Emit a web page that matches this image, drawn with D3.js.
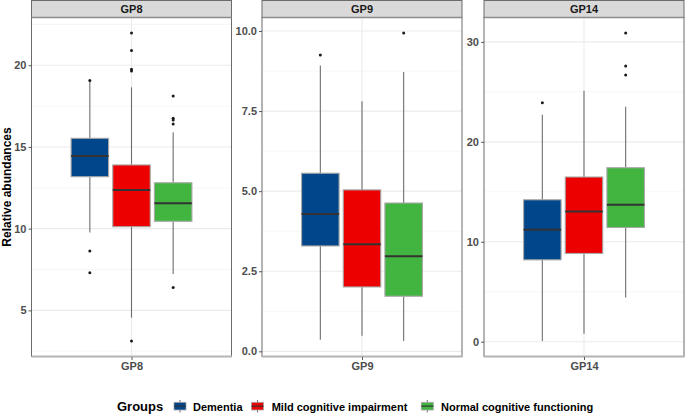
<!DOCTYPE html>
<html><head><meta charset="utf-8">
<script src="https://cdn.jsdelivr.net/npm/d3@7"></script>
<style>body{margin:0;background:#fff;}svg{display:block;font-family:"Liberation Sans",Arial,sans-serif;}</style>
</head><body>
<script>
const categories = ["GP8", "GP9", "GP14"];
const groups = ["Dementia", "Mild cognitive impairment", "Normal cognitive functioning"];
const colors = ["#00468B", "#ED0000", "#42B540"];
const yTicks = [[5, 10, 15, 20], [0, 2.5, 5, 7.5, 10], [0, 10, 20, 30]];
const yTickLabels = [["5", "10", "15", "20"], ["0.0", "2.5", "5.0", "7.5", "10.0"], ["0", "10", "20", "30"]];
// per panel: [Dementia, MCI, Normal]
const lowerWhisker = [[9.77, 4.55, 7.22], [0.36, 0.49, 0.32], [0.06, 0.8, 4.41]];
const q1 = [[13.18, 10.12, 10.45], [3.29, 2.01, 1.72], [8.19, 8.83, 11.43]];
const median = [[14.45, 12.37, 11.55], [4.29, 3.34, 2.97], [11.2, 13.04, 13.7]];
const q3 = [[15.53, 13.9, 12.81], [5.56, 5.04, 4.63], [14.2, 16.48, 17.41]];
const upperWhisker = [[19.0, 18.65, 15.9], [8.92, 7.81, 8.72], [22.7, 25.1, 23.5]];
const outliers = [
  [[19.06, 8.63, 7.3], [21.98, 20.9, 19.75, 19.65, 3.12], [18.12, 16.75, 16.65, 16.4, 6.4]],
  [[9.25], [], [9.94]],
  [[23.9], [], [30.9, 27.6, 26.7]]
];

const W = 685, H = 415;
const svg = d3.select("body").append("svg").attr("width", W).attr("height", H);
const panelLeft = [31.5, 262, 484];
const panelW = 200;
const stripTop = 0.5, stripH = 17, plotTop = 17.5, plotBottom = 356.5;

categories.forEach((cat, p) => {
  const x0 = panelLeft[p];
  const x = d3.scaleLinear().domain([0.4, 1.6]).range([x0, x0 + panelW]);
  const allVals = lowerWhisker[p].concat(upperWhisker[p], ...outliers[p]);
  const mn = d3.min(allVals), mx = d3.max(allVals), r = mx - mn;
  const y = d3.scaleLinear().domain([mn - 0.05 * r, mx + 0.05 * r]).range([plotBottom, plotTop]);
  const g = svg.append("g");
  g.append("rect").attr("x", x0).attr("y", plotTop).attr("width", panelW).attr("height", plotBottom - plotTop).attr("fill", "#fff");
  // minor grid
  const step = yTicks[p][1] - yTicks[p][0];
  const minors = [];
  for (let v = yTicks[p][0] - step / 2; v <= y.domain()[1]; v += step) {
    if (v >= y.domain()[0]) minors.push(v);
  }
  g.selectAll(".mg").data(minors).enter().append("line")
    .attr("x1", x0).attr("x2", x0 + panelW).attr("y1", d => y(d)).attr("y2", d => y(d))
    .attr("stroke", "#f2f2f2").attr("stroke-width", 0.7);
  g.selectAll(".Mg").data(yTicks[p]).enter().append("line")
    .attr("x1", x0).attr("x2", x0 + panelW).attr("y1", d => y(d)).attr("y2", d => y(d))
    .attr("stroke", "#ebebeb").attr("stroke-width", 1.1);
  g.append("line").attr("x1", x(1)).attr("x2", x(1)).attr("y1", plotTop).attr("y2", plotBottom)
    .attr("stroke", "#ebebeb").attr("stroke-width", 1.1);

  // boxes
  groups.forEach((grp, i) => {
    const cx = x(1 + (i - 1) * 0.25);
    const bw = x(0.4 + 0.225) - x(0.4);
    g.append("line").attr("x1", cx).attr("x2", cx).attr("y1", y(upperWhisker[p][i])).attr("y2", y(q3[p][i]))
      .attr("stroke", "#6e6e6e").attr("stroke-width", 1.1);
    g.append("line").attr("x1", cx).attr("x2", cx).attr("y1", y(q1[p][i])).attr("y2", y(lowerWhisker[p][i]))
      .attr("stroke", "#6e6e6e").attr("stroke-width", 1.1);
    g.append("rect").attr("x", cx - bw / 2).attr("y", y(q3[p][i])).attr("width", bw)
      .attr("height", y(q1[p][i]) - y(q3[p][i])).attr("fill", colors[i]).attr("stroke", "#a8a8a8").attr("stroke-width", 1.1);
    g.append("line").attr("x1", cx - bw / 2).attr("x2", cx + bw / 2).attr("y1", y(median[p][i])).attr("y2", y(median[p][i]))
      .attr("stroke", "#333333").attr("stroke-width", 2);
    g.selectAll(null).data(outliers[p][i]).enter().append("circle")
      .attr("cx", cx).attr("cy", d => y(d)).attr("r", 1.5).attr("fill", "#1a1a1a");
  });

  // panel border
  g.append("rect").attr("x", x0).attr("y", plotTop).attr("width", panelW).attr("height", plotBottom - plotTop)
    .attr("fill", "none").attr("stroke", "#6b6b6b").attr("stroke-width", 1);
  g.append("line").attr("x1", x0).attr("x2", x0 + panelW + 0.5).attr("y1", plotBottom).attr("y2", plotBottom)
    .attr("stroke", "#b3b3b3").attr("stroke-width", 2);
  // strip
  g.append("rect").attr("x", x0).attr("y", stripTop).attr("width", panelW).attr("height", stripH)
    .attr("fill", "#d9d9d9").attr("stroke", "#6b6b6b").attr("stroke-width", 1);
  g.append("line").attr("x1", x0).attr("x2", x0 + panelW).attr("y1", plotTop).attr("y2", plotTop)
    .attr("stroke", "#8c8c8c").attr("stroke-width", 1.5);
  g.append("text").attr("x", x0 + panelW / 2).attr("y", 13.2).attr("text-anchor", "middle")
    .attr("font-size", 11).attr("font-weight", "bold").attr("fill", "#1a1a1a").text(cat);

  // y axis
  const yAxis = d3.axisLeft(y).tickValues(yTicks[p]).tickFormat((d, k) => yTickLabels[p][k]).tickSize(3).tickPadding(2);
  const ya = svg.append("g").attr("transform", `translate(${x0},0)`).call(yAxis);
  ya.select(".domain").remove();
  ya.selectAll(".tick line").attr("stroke", "#333").attr("stroke-width", 0.8);
  ya.selectAll(".tick text").attr("font-size", 11).attr("font-weight", "bold").attr("fill", "#4d4d4d")
    .attr("font-family", "Liberation Sans, Arial, sans-serif");
  // x axis
  const xs = d3.scalePoint().domain([cat]).range([x(1), x(1)]);
  const xAxis = d3.axisBottom(xs).tickSize(3).tickPadding(2);
  const xa = svg.append("g").attr("transform", `translate(0,${plotBottom + 0.5})`).call(xAxis);
  xa.select(".domain").remove();
  xa.selectAll(".tick line").attr("stroke", "#333").attr("stroke-width", 0.8);
  xa.selectAll(".tick text").attr("font-size", 11).attr("font-weight", "bold").attr("fill", "#4d4d4d")
    .attr("font-family", "Liberation Sans, Arial, sans-serif");
});

// y title
svg.append("text").attr("transform", "translate(10.5,187) rotate(-90)").attr("text-anchor", "middle")
  .attr("font-size", 12).attr("font-weight", "bold").attr("fill", "#000").text("Relative abundances");

// legend
const lg = svg.append("g");
lg.append("text").attr("x", 117).attr("y", 410.5).attr("font-size", 13).attr("font-weight", "bold").attr("fill", "#000").text("Groups");
const keyCx = [180, 257.5, 427.3];
const textX = [193, 271.7, 441];
groups.forEach((grp, i) => {
  const cx = keyCx[i];
  lg.append("line").attr("x1", cx).attr("x2", cx).attr("y1", 400).attr("y2", 412.5).attr("stroke", "#6e6e6e").attr("stroke-width", 1);
  lg.append("rect").attr("x", cx - 6).attr("y", 402.3).attr("width", 12).attr("height", 7.7)
    .attr("fill", colors[i]).attr("stroke", "#a8a8a8").attr("stroke-width", 0.8);
  lg.append("line").attr("x1", cx - 6).attr("x2", cx + 6).attr("y1", 406.1).attr("y2", 406.1).attr("stroke", "#333").attr("stroke-width", 1.2);
  lg.append("text").attr("x", textX[i]).attr("y", 410.5).attr("font-size", 11).attr("font-weight", "bold").attr("fill", "#000").text(grp);
});
</script>
</body></html>
